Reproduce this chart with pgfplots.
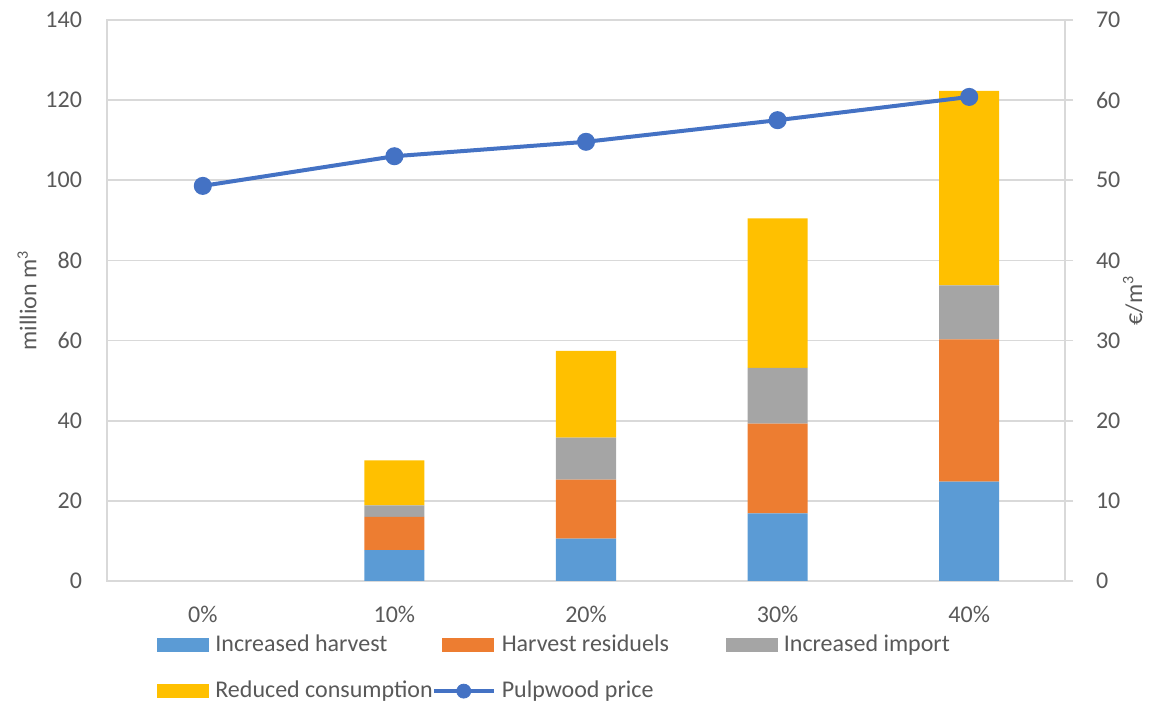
\documentclass[border=0pt]{standalone}
\usepackage{fontspec}
\setmainfont{Carlito}
\usepackage{pgfplots}
\pgfplotsset{compat=1.18}
\definecolor{cblue}{HTML}{5B9BD5}
\definecolor{corange}{HTML}{ED7D31}
\definecolor{cgray}{HTML}{A5A5A5}
\definecolor{cyellow}{HTML}{FFC000}
\definecolor{lblue}{HTML}{4472C4}
\definecolor{gridc}{HTML}{D9D9D9}
\definecolor{textc}{HTML}{595959}
\pgfplotstableread{
x harvest residuals import reduced
1 7.7 8.3 2.9 11.2
2 10.6 14.7 10.5 21.6
3 16.9 22.4 13.9 37.3
4 24.8 35.5 13.5 48.5
}\bars
\pgfplotstableread{
x price
0 49.3
1 53.0
2 54.8
3 57.5
4 60.4
}\price
\newcommand{\lfont}{\fontsize{12}{14.4}\selectfont}
\begin{document}
\begin{tikzpicture}
\path[use as bounding box] (-53.5pt,-61.5pt) rectangle (522pt,290.5pt);
\begin{axis}[
  at={(0,0)}, anchor=south west,
  scale only axis, width=479pt, height=280.5pt,
  xmin=-0.5, xmax=4.5, ymin=0, ymax=140,
  xtick={0,1,2,3,4}, xticklabels={0\%,10\%,20\%,30\%,40\%},
  ytick={0,20,...,140},
  /pgf/number format/assume math mode=true,
  ybar stacked, bar width=30pt,
  axis line style={draw=gridc, line width=0.8pt},
  major tick length=0pt,
  ymajorgrids, grid style={draw=gridc, line width=0.8pt},
  tick label style={font=\lfont, text=textc},
  yticklabel style={xshift=-9pt},
  xticklabel style={yshift=-9pt},
  ylabel={million m\textsuperscript{3}},
  ylabel style={font=\lfont, text=textc, at={(rel axis cs:0,0.5)}, yshift=40pt, anchor=center},
  legend columns=3,
  legend style={at={(0.0438,-0.094)}, anchor=north west, draw=none, fill=none,
    font=\lfont, text=textc, inner sep=0pt, row sep=12pt,
    /tikz/column 2/.style={column sep=-3.5pt},
    /tikz/column 4/.style={column sep=21.5pt},
    nodes={inner xsep=3pt, inner ysep=0pt, text height=8.5pt, text depth=2.5pt}},
  legend cell align=left,
  area legend,
  legend image code/.code={\path (0pt,0pt); \fill[#1,draw=none] (4pt,-3.5pt) rectangle (30pt,3.5pt);},
]
\addplot[fill=cblue, draw=none] table[x=x, y=harvest] {\bars};
\addlegendentry{Increased harvest}
\addplot[fill=corange, draw=none] table[x=x, y=residuals] {\bars};
\addlegendentry{Harvest residuels}
\addplot[fill=cgray, draw=none] table[x=x, y=import] {\bars};
\addlegendentry{Increased import}
\addplot[fill=cyellow, draw=none] table[x=x, y=reduced] {\bars};
\addlegendentry{Reduced consumption}
\addlegendimage{legend image code/.code={\draw[lblue, line width=2pt] (0pt,0pt) -- (30pt,0pt); \fill[lblue] (15pt,0pt) circle (3.5pt);}}
\addlegendentry{Pulpwood price}
\end{axis}
\begin{axis}[
  at={(0,0)}, anchor=south west,
  scale only axis, width=479pt, height=280.5pt,
  xmin=-0.5, xmax=4.5, ymin=0, ymax=70,
  axis x line=none,
  axis y line*=right,
  ytick={0,10,...,70},
  /pgf/number format/assume math mode=true,
  tick align=outside, major tick length=4pt,
  tick style={draw=gridc, line width=0.8pt},
  axis line style={draw=gridc, line width=0.8pt, -},
  tick label style={font=\lfont, text=textc},
  yticklabel style={xshift=8pt},
  ylabel={€/m\textsuperscript{3}},
  ylabel style={font=\lfont, text=textc, at={(rel axis cs:1,0.5)}, yshift=-34pt, anchor=center},
]
\addplot[lblue, line width=2pt, mark=*, mark size=3.5pt, mark options={fill=lblue, draw=lblue}] table[x=x, y=price] {\price};
\end{axis}
\end{tikzpicture}
\end{document}
